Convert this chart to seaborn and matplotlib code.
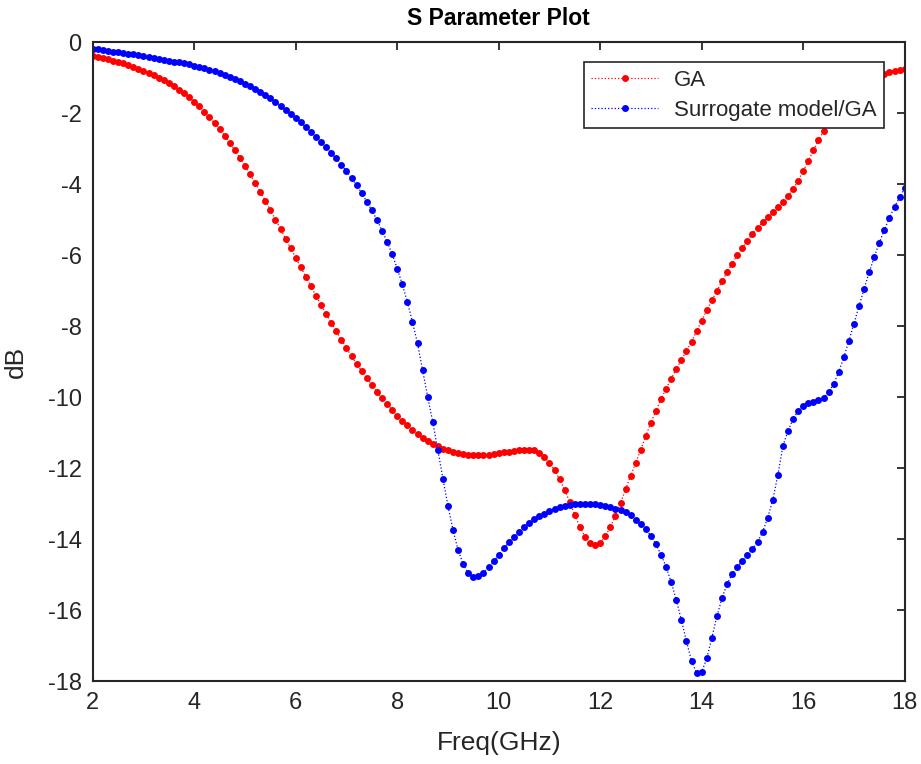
import numpy as np
import pandas as pd
import matplotlib
matplotlib.use("Agg")
import matplotlib.pyplot as plt
import seaborn as sns

# frequency sweep 2-18 GHz, 0.1 GHz step
freq = np.linspace(2, 18, 161)

ga = [
    -0.39, -0.41, -0.45, -0.49, -0.53, -0.56, -0.60, -0.65, -0.70, -0.76,   # 2.0-2.9
    -0.82, -0.87, -0.93, -1.00, -1.07, -1.15, -1.24, -1.34, -1.45, -1.56,   # 3.0-3.9
    -1.68, -1.81, -1.96, -2.12, -2.28, -2.46, -2.64, -2.84, -3.05, -3.26,   # 4.0-4.9
    -3.49, -3.73, -3.97, -4.22, -4.47, -4.73, -5.00, -5.27, -5.54, -5.81,   # 5.0-5.9
    -6.08, -6.35, -6.61, -6.88, -7.15, -7.41, -7.65, -7.91, -8.15, -8.39,   # 6.0-6.9
    -8.62, -8.85, -9.06, -9.27, -9.47, -9.66, -9.85, -10.03, -10.20, -10.37,  # 7.0-7.9
    -10.53, -10.67, -10.80, -10.93, -11.04, -11.15, -11.23, -11.32, -11.39, -11.45,  # 8.0-8.9
    -11.49, -11.54, -11.58, -11.61, -11.63, -11.63, -11.63, -11.63, -11.62, -11.60,  # 9.0-9.9
    -11.58, -11.56, -11.54, -11.51, -11.50, -11.48, -11.48, -11.50, -11.59, -11.70,  # 10.0-10.9
    -11.86, -12.06, -12.32, -12.62, -12.96, -13.32, -13.67, -13.93, -14.12, -14.17,  # 11.0-11.9
    -14.11, -13.92, -13.66, -13.34, -12.98, -12.60, -12.22, -11.85, -11.48, -11.09,  # 12.0-12.9
    -10.72, -10.38, -10.06, -9.76, -9.48, -9.21, -8.95, -8.70, -8.44, -8.14,  # 13.0-13.9
    -7.85, -7.55, -7.28, -7.01, -6.74, -6.49, -6.24, -6.01, -5.80, -5.60,   # 14.0-14.9
    -5.40, -5.23, -5.08, -4.94, -4.80, -4.66, -4.52, -4.35, -4.14, -3.91,   # 15.0-15.9
    -3.63, -3.35, -3.05, -2.77, -2.51, -2.26, -2.02, -1.80, -1.60, -1.43,   # 16.0-16.9
    -1.29, -1.17, -1.08, -1.01, -0.96, -0.93, -0.90, -0.85, -0.83, -0.79,   # 17.0-17.9
    -0.76,                                                                  # 18.0
]

surrogate = [
    -0.19, -0.21, -0.23, -0.25, -0.27, -0.29, -0.31, -0.33, -0.35, -0.37,   # 2.0-2.9
    -0.39, -0.42, -0.45, -0.47, -0.50, -0.53, -0.55, -0.57, -0.60, -0.63,   # 3.0-3.9
    -0.67, -0.70, -0.74, -0.78, -0.83, -0.88, -0.93, -0.98, -1.05, -1.11,   # 4.0-4.9
    -1.17, -1.25, -1.32, -1.41, -1.49, -1.59, -1.69, -1.79, -1.91, -2.02,   # 5.0-5.9
    -2.14, -2.26, -2.40, -2.53, -2.68, -2.82, -2.97, -3.13, -3.28, -3.46,   # 6.0-6.9
    -3.64, -3.83, -4.04, -4.25, -4.50, -4.74, -5.01, -5.31, -5.62, -5.98,   # 7.0-7.9
    -6.38, -6.83, -7.32, -7.88, -8.49, -9.25, -10.00, -10.70, -11.49, -12.30,  # 8.0-8.9
    -13.07, -13.75, -14.31, -14.71, -14.96, -15.06, -15.04, -14.95, -14.80, -14.63,  # 9.0-9.9
    -14.45, -14.26, -14.09, -13.93, -13.79, -13.66, -13.55, -13.44, -13.36, -13.29,  # 10.0-10.9
    -13.21, -13.15, -13.11, -13.07, -13.05, -13.02, -13.02, -13.02, -13.02, -13.02,  # 11.0-11.9
    -13.04, -13.07, -13.11, -13.15, -13.19, -13.25, -13.33, -13.45, -13.58, -13.73,  # 12.0-12.9
    -13.91, -14.15, -14.45, -14.79, -15.22, -15.72, -16.29, -16.88, -17.44, -17.77,  # 13.0-13.9
    -17.74, -17.36, -16.78, -16.18, -15.66, -15.27, -14.99, -14.78, -14.62, -14.45,  # 14.0-14.9
    -14.28, -14.08, -13.80, -13.40, -12.90, -12.20, -11.38, -10.95, -10.63, -10.39,  # 15.0-15.9
    -10.26, -10.18, -10.14, -10.09, -10.02, -9.87, -9.63, -9.30, -8.88, -8.42,  # 16.0-16.9
    -7.93, -7.44, -6.95, -6.49, -6.06, -5.65, -5.29, -4.95, -4.64, -4.37,   # 17.0-17.9
    -4.12,                                                                  # 18.0
]

x_ticks = [2, 4, 6, 8, 10, 12, 14, 16, 18]
y_ticks = [0, -2, -4, -6, -8, -10, -12, -14, -16, -18]

df = pd.DataFrame({"Freq": freq, "GA": ga, "Surrogate": surrogate})

sns.set_style("white")
plt.rcParams["font.family"] = ["Liberation Sans", "DejaVu Sans"]
plt.rcParams["axes.unicode_minus"] = False

fig = plt.figure(figsize=(9.21, 7.64), dpi=100)
ax = fig.add_axes([0.1007, 0.1086, 0.8816, 0.8364])

sns.lineplot(data=df, x="Freq", y="GA", ax=ax, color="red", linestyle=":",
             linewidth=0.9, marker="o", markersize=5, markeredgewidth=0,
             label="GA")
sns.lineplot(data=df, x="Freq", y="Surrogate", ax=ax, color="blue", linestyle=":",
             linewidth=0.9, marker="o", markersize=5, markeredgewidth=0,
             label="Surrogate model/GA")

ax.set_xlim(2, 18)
ax.set_ylim(-18, 0)
ax.set_xticks(x_ticks)
ax.set_yticks(y_ticks)
ax.tick_params(direction="in", length=6, width=1.3, top=True, right=True,
               labelsize=17, colors="#262626", pad=8)
for s in ax.spines.values():
    s.set_color("#262626")
    s.set_linewidth(1.5)

ax.set_title("S Parameter Plot", fontsize=16.5, fontweight="bold", pad=12,
             color="black")
ax.set_xlabel("Freq(GHz)", fontsize=19, color="#262626", labelpad=12)
ax.set_ylabel("dB", fontsize=19, color="#262626", labelpad=14)

leg = ax.legend(loc="upper right", bbox_to_anchor=(0.9745, 0.9687),
                borderaxespad=0, fancybox=False, framealpha=1,
                edgecolor="#262626", fontsize=16, handlelength=3.0,
                handletextpad=0.7, borderpad=0.35, labelspacing=0.4)
leg.get_frame().set_linewidth(1.2)
leg.set_zorder(5)

fig.savefig("out.png", dpi=100)
